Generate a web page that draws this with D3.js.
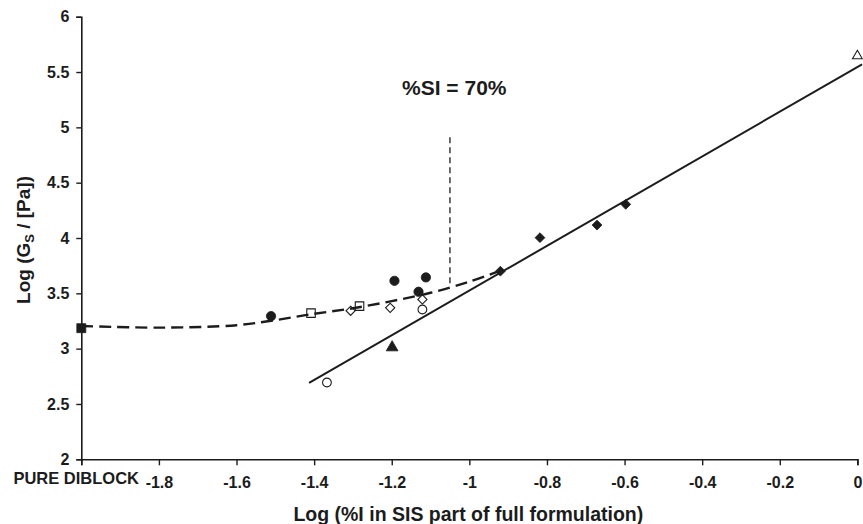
<!DOCTYPE html>
<html>
<head>
<meta charset="utf-8">
<script src="https://cdn.jsdelivr.net/npm/d3@7"></script>
<style>
  html, body { margin: 0; padding: 0; background: #fff; }
  svg { display: block; font-family: "Liberation Sans", Arial, sans-serif; }
  .tick text { font-weight: bold; }
</style>
</head>
<body>
<svg id="chart" width="863" height="524"></svg>
<script>
// Log of SIS fraction (x) against log of plateau modulus (y)
const xTicks = [-1.8, -1.6, -1.4, -1.2, -1, -0.8, -0.6, -0.4, -0.2, 0];
const yTicks = [2, 2.5, 3, 3.5, 4, 4.5, 5, 5.5, 6];

const pureDiblock     = [[-2, 3.185]];
const filledCircles   = [[-1.511, 3.294], [-1.193, 3.613], [-1.112, 3.644], [-1.131, 3.514]];
const openSquares     = [[-1.408, 3.321], [-1.283, 3.384]];
const openDiamonds    = [[-1.306, 3.342], [-1.204, 3.369], [-1.121, 3.445]];
const openCircles     = [[-1.121, 3.354], [-1.367, 2.694]];
const filledTriangles = [[-1.199, 3.011]];
const filledDiamonds  = [[-0.92, 3.70], [-0.818, 4.003], [-0.671, 4.117], [-0.597, 4.304]];
const openTriangles   = [[0, 5.645]];

// dashed trend through the low-SIS blends
const lowTrend  = [[-2, 3.205], [-1.8, 3.19], [-1.6, 3.212], [-1.5, 3.258], [-1.4, 3.315],
                   [-1.3, 3.365], [-1.2, 3.43], [-1.1, 3.505], [-1.0, 3.605], [-0.92, 3.705]];
// straight fit through the high-SIS blends
const highTrend = [[-1.413, 2.69], [0.012, 5.57]];
// %SI = 70% marker line
const siMarker  = [[-1.05, 4.91], [-1.05, 3.565]];

const ink = "#1c1c1c";
const svg = d3.select("#chart");
const margin = { top: 16.7, right: 5.6, bottom: 64.7, left: 81.3 };
const W = 863, H = 524;

const x = d3.scaleLinear().domain([-2, 0]).range([margin.left, W - margin.right]);
const y = d3.scaleLinear().domain([2, 6]).range([H - margin.bottom, margin.top]);

// tick labels use a plain hyphen for negatives
const plain = d => String(d);

// axes
const xAxis = svg.append("g")
  .attr("transform", `translate(0,${y(2)})`)
  .call(d3.axisBottom(x).tickValues([-2, ...xTicks]).tickSizeOuter(0).tickSize(6)
        .tickFormat(d => d === -2 ? "" : plain(d)));
const yAxis = svg.append("g")
  .attr("transform", `translate(${x(-2)},0)`)
  .call(d3.axisLeft(y).tickValues(yTicks).tickSizeOuter(0).tickSize(5)
        .tickFormat(plain));

[xAxis, yAxis].forEach(g => {
  g.select(".domain").attr("stroke", ink).attr("stroke-width", 1.6);
  g.selectAll(".tick line").attr("stroke", ink).attr("stroke-width", 1.4);
  g.selectAll(".tick text").attr("fill", ink).attr("font-size", 16)
    .attr("font-family", "Liberation Sans, Arial, sans-serif");
});
xAxis.selectAll(".tick text").attr("dy", null).attr("y", 29);
yAxis.selectAll(".tick text").attr("x", -12);

svg.append("text")
  .attr("x", 139).attr("y", 483.5)
  .attr("text-anchor", "end")
  .attr("font-size", 16.5).attr("font-weight", "bold").attr("fill", ink)
  .text("PURE DIBLOCK");

// axis titles
svg.append("text")
  .attr("x", (margin.left + W - margin.right) / 2 - 1).attr("y", 521)
  .attr("text-anchor", "middle")
  .attr("font-size", 19.5).attr("font-weight", "bold").attr("fill", ink)
  .text("Log (%I in SIS part of full formulation)");

const yTitle = svg.append("text")
  .attr("transform", "translate(30,240) rotate(-90)")
  .attr("text-anchor", "middle")
  .attr("font-size", 19).attr("font-weight", "bold").attr("fill", ink);
yTitle.append("tspan").text("Log (G");
yTitle.append("tspan").attr("font-size", 13).attr("dy", 4).text("S");
yTitle.append("tspan").attr("dy", -4).text(" / [Pa])");

// annotation
svg.append("text")
  .attr("x", 402).attr("y", 95)
  .attr("font-size", 21).attr("font-weight", "bold").attr("fill", ink)
  .text("%SI = 70%");

// markers
const marks = svg.append("g");
function drawSeries(data, type, filled, size, rotate) {
  marks.selectAll(null).data(data).enter().append("path")
    .attr("d", d3.symbol().type(type).size(size))
    .attr("transform", d => `translate(${x(d[0])},${y(d[1])})` + (rotate ? " rotate(45)" : ""))
    .attr("fill", filled ? ink : "#fff")
    .attr("stroke", ink)
    .attr("stroke-width", filled ? 0.8 : 1.1);
}
drawSeries(pureDiblock, d3.symbolSquare, true, 80);
drawSeries(filledCircles, d3.symbolCircle, true, 68);
drawSeries(openSquares, d3.symbolSquare, false, 72);
drawSeries(openDiamonds, d3.symbolSquare, false, 42, true);
drawSeries(openCircles, d3.symbolCircle, false, 60);
drawSeries(filledTriangles, d3.symbolTriangle, true, 60);
drawSeries(filledDiamonds, d3.symbolSquare, true, 48, true);
drawSeries(openTriangles, d3.symbolTriangle, false, 42);

// trend lines
const line = d3.line().x(d => x(d[0])).y(d => y(d[1]));
svg.append("path")
  .attr("d", line.curve(d3.curveCatmullRom)(lowTrend))
  .attr("fill", "none").attr("stroke", ink).attr("stroke-width", 2.4)
  .attr("stroke-dasharray", "12,6");
svg.append("path")
  .attr("d", d3.line().x(d => x(d[0])).y(d => y(d[1]))(highTrend))
  .attr("fill", "none").attr("stroke", ink).attr("stroke-width", 2);
svg.append("path")
  .attr("d", d3.line().x(d => x(d[0])).y(d => y(d[1]))(siMarker))
  .attr("fill", "none").attr("stroke", ink).attr("stroke-width", 1.3)
  .attr("stroke-dasharray", "6,4");
</script>
</body>
</html>
